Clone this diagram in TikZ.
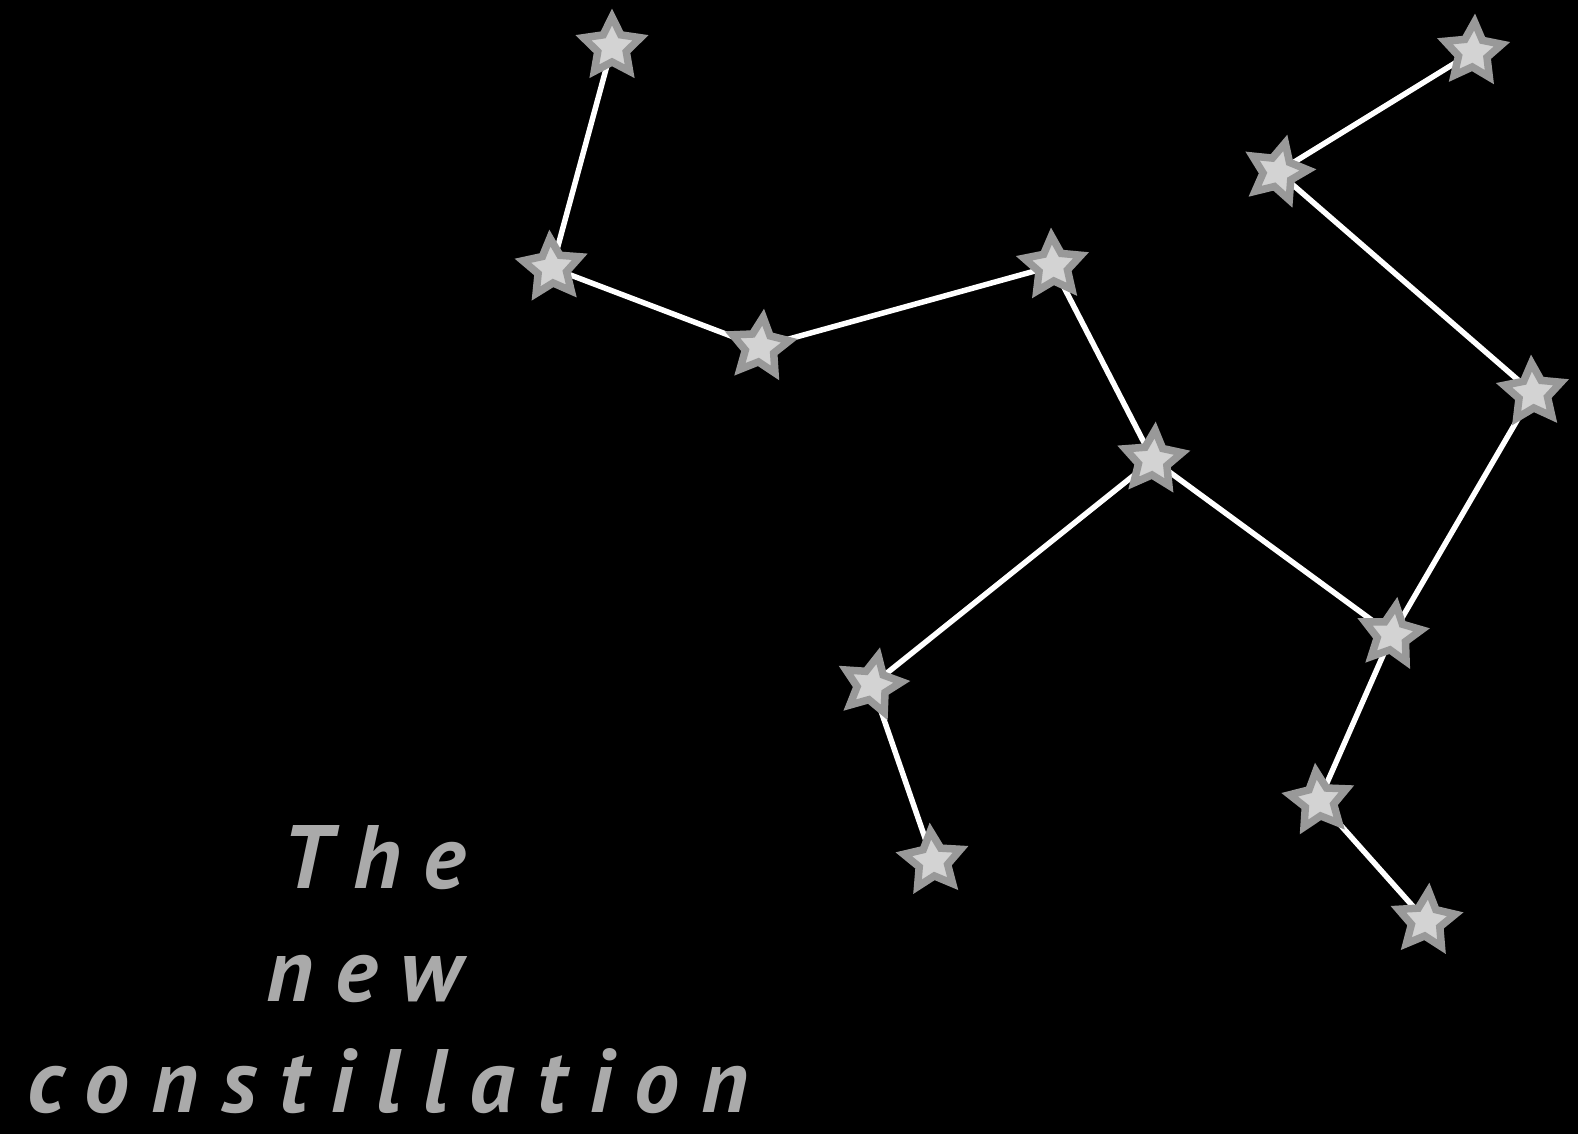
\documentclass[tikz,border=0pt]{standalone}
\usepackage{fontspec}
\usetikzlibrary{shapes.geometric}
\newfontfamily\titlefont[LetterSpace=25]{PT Sans}
\definecolor{starfill}{HTML}{D3D3D3}
\definecolor{starline}{HTML}{999999}
\definecolor{txt}{HTML}{AAAAAA}
\tikzset{
  star5/.style={star, star points=5, star point ratio=2.0, draw=starline, fill=starfill, line width=7.5pt, minimum size=60pt, inner sep=0pt},
  link/.style={white, line width=5.5pt},
  title/.style={text=txt, anchor=base, font=\titlefont\bfseries\itshape\fontsize{90}{90}\selectfont}
}
\begin{document}
\begin{tikzpicture}[x=1pt,y=-1pt]
\fill[black] (0,0) rectangle (1578,1134);
\useasboundingbox (0,0) rectangle (1578,1134);
\coordinate (s1) at (612,47);
\coordinate (s2) at (552,268);
\coordinate (s3) at (760,347);
\coordinate (s4) at (1053,266);
\coordinate (s5) at (1153,460);
\coordinate (s6) at (872,685);
\coordinate (s7) at (933,861);
\coordinate (s8) at (1392,635);
\coordinate (s9) at (1319,801);
\coordinate (s10) at (1426,921);
\coordinate (s11) at (1533,393);
\coordinate (s12) at (1278,172);
\coordinate (s13) at (1473,52);
\draw[link] (s1)--(s2)--(s3)--(s4)--(s5)--(s6)--(s7);
\draw[link] (s5)--(s8)--(s9)--(s10);
\draw[link] (s8)--(s11)--(s12)--(s13);
\node[star5] (n1) at (s1) {};
\node[star5, rotate=4] (n2) at (s2) {};
\node[star5, rotate=-6] (n3) at (s3) {};
\node[star5, rotate=3] (n4) at (s4) {};
\node[star5, rotate=-4] (n5) at (s5) {};
\node[star5, rotate=-12] (n6) at (s6) {};
\node[star5, rotate=5] (n7) at (s7) {};
\node[star5, rotate=-8] (n8) at (s8) {};
\node[star5, rotate=6] (n9) at (s9) {};
\node[star5, rotate=-5] (n10) at (s10) {};
\node[star5, rotate=3] (n11) at (s11) {};
\node[star5, rotate=-14] (n12) at (s12) {};
\node[star5, rotate=-3] (n13) at (s13) {};
\node[title] (t1) at (374,888) {The};
\node[title] (t2) at (364,1001) {new};
\node[title] (t3) at (388,1112) {constillation};
\end{tikzpicture}
\end{document}
